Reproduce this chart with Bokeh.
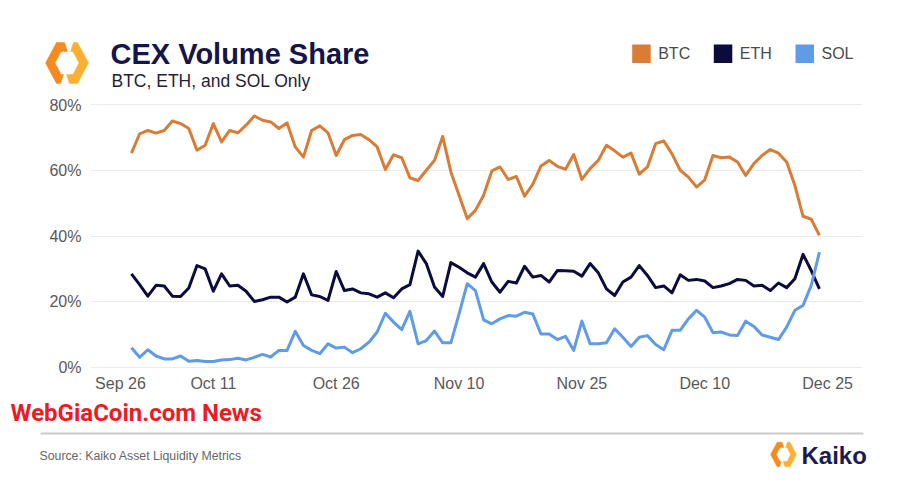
import pandas as pd
from bokeh.plotting import figure
from bokeh.layouts import column
from bokeh.models import Range1d, FixedTicker
from bokeh.core.properties import value
from bokeh.embed import file_html
from bokeh.resources import INLINE

# ---------------- data ----------------
AXIS_ORIGIN = "2024-09-26"
START_DATE = "2024-10-01"
END_DATE = "2024-12-24"

btc = [65.2, 71.1, 72.1, 71.3, 72.1, 75.0, 74.2, 72.7, 66.1, 67.6,
       74.2, 68.6, 72.1, 71.4, 73.7, 76.5, 75.2, 74.7, 72.7, 74.4,
       67.1, 64.0, 72.1, 73.5, 71.4, 64.5, 69.3, 70.6, 70.9, 69.3,
       67.1, 60.2, 64.7, 63.8, 57.7, 56.9, 60.0, 63.0, 70.3, 59.5,
       52.4, 45.3, 47.8, 52.4, 59.8, 61.0, 57.2, 58.1, 52.1, 55.7,
       61.3, 63.0, 61.2, 60.3, 64.8, 57.2, 60.5, 63.0, 67.6, 65.9,
       64.0, 65.2, 58.8, 61.0, 68.1, 68.9, 65.0, 60.0, 57.9, 54.9,
       57.1, 64.5, 63.8, 64.0, 62.5, 58.4, 62.0, 64.5, 66.3, 65.2,
       62.5, 55.4, 46.0, 45.1, 40.2]

eth = [28.5, 25.2, 21.7, 25.0, 24.8, 21.7, 21.6, 24.2, 31.0, 30.0,
       23.2, 28.5, 24.8, 25.0, 23.2, 20.1, 20.6, 21.4, 21.4, 19.9,
       21.4, 28.5, 22.1, 21.6, 20.4, 29.2, 23.4, 23.9, 22.7, 22.4,
       21.4, 22.7, 21.2, 23.9, 25.2, 35.4, 31.6, 24.5, 21.6, 31.9,
       30.5, 28.8, 27.5, 31.6, 26.0, 22.9, 26.2, 25.7, 30.8, 27.5,
       28.0, 26.0, 29.5, 29.4, 29.3, 27.8, 31.6, 28.8, 23.9, 21.9,
       26.0, 27.5, 31.0, 28.0, 24.3, 24.8, 22.7, 28.2, 26.5, 26.8,
       26.3, 24.3, 24.8, 25.5, 26.8, 26.5, 24.8, 25.0, 23.4, 25.7,
       24.3, 27.0, 34.4, 29.5, 23.9]

sol = [6.0, 3.1, 5.4, 3.5, 2.6, 2.6, 3.5, 1.9, 2.1, 1.8,
       1.8, 2.3, 2.4, 2.8, 2.3, 3.1, 4.0, 3.2, 5.2, 5.2,
       11.0, 6.7, 5.2, 4.2, 7.2, 5.9, 6.2, 4.5, 5.7, 7.7,
       10.8, 16.5, 13.8, 11.5, 17.1, 7.2, 8.2, 11.1, 7.5, 7.5,
       16.3, 25.5, 23.4, 14.5, 13.3, 14.8, 15.8, 15.6, 16.8, 16.3,
       10.2, 10.2, 8.5, 9.5, 5.2, 14.1, 7.2, 7.2, 7.5, 11.8,
       9.2, 6.4, 9.2, 9.7, 7.0, 5.4, 11.3, 11.3, 14.8, 17.4,
       15.3, 10.6, 10.8, 9.9, 9.7, 14.1, 12.5, 9.9, 9.2, 8.5,
       12.3, 17.4, 18.9, 25.0, 35.1]

series_names = ["BTC", "ETH", "SOL"]
series_colors = ["#d87c36", "#0b0b3e", "#5f9be6"]

tick_dates = ["2024-09-26", "2024-10-11", "2024-10-26", "2024-11-10",
              "2024-11-25", "2024-12-10", "2024-12-25"]
tick_labels = ["Sep 26", "Oct 11", "Oct 26", "Nov 10", "Nov 25", "Dec 10", "Dec 25"]
y_ticks = [0, 20, 40, 60, 80]
y_tick_labels = ["0%", "20%", "40%", "60%", "80%"]

TITLE = "CEX Volume Share"
SUBTITLE = "BTC, ETH, and SOL Only"
SOURCE = "Source: Kaiko Asset Liquidity Metrics"
WATERMARK = "WebGiaCoin.com News"
BRAND = "Kaiko"

FONT = "Liberation Sans"

# ---------------- derived x positions (days since axis origin) ----------------
origin = pd.Timestamp(AXIS_ORIGIN)
dates = pd.date_range(START_DATE, END_DATE, freq="D")
xs = [(d - origin).days for d in dates]
tick_pos = [float((pd.Timestamp(t) - origin).days) for t in tick_dates]
tick_pos[0] = tick_pos[0] + 3.66  # first label nudged inside, as in the source chart

W = 900
HEAD_H, MAIN_H, FOOT_H = 96, 304, 91


def blank(height, y_top):
    f = figure(width=W, height=height, output_backend="svg", toolbar_location=None,
               x_range=Range1d(0, W), y_range=Range1d(y_top + height, y_top),
               min_border=0, frame_align=False)
    f.axis.visible = False
    f.grid.visible = False
    f.outline_line_color = None
    f.background_fill_color = "white"
    f.border_fill_color = "white"
    return f


def add_logo(fig, cx, cy, s):
    left = [(-2.5, -20.5), (-10.5, -20.5), (-21.5, 0), (-10.5, 20.5), (-6.5, 20.5),
            (-3.5, 11.5), (-6, 11.5), (-12, 0), (-6, -11.5), (0.5, -11.5)]
    right = [(-x, -y) for x, y in left]
    for poly, c in ((left, "#f58a1f"), (right, "#fbb034")):
        fig.patch([cx + s * x for x, y in poly], [cy + s * y for x, y in poly],
                  fill_color=c, line_color=c, line_width=0.5)


def add_text(fig, x, y, text, size, color, bold=False, font=FONT):
    fig.text(x=[x], y=[y], text=[text], text_font=value(font), text_font_size=size,
             text_font_style="bold" if bold else "normal", text_color=color,
             text_baseline="middle", text_align="left")


# ---------------- header ----------------
h = blank(HEAD_H, 0)
add_logo(h, 66.5, 62.5, 1.0)
add_text(h, 110, 53.5, TITLE, "29px", "#15154a", bold=True)
add_text(h, 111, 80.5, SUBTITLE, "17.5px", "#1f1f33")
leg_x = [631.7, 713.3, 795.0]
for lx, name, col in zip(leg_x, series_names, series_colors):
    h.quad(left=[lx], right=[lx + 18.5], top=[44], bottom=[62.5], fill_color=col, line_color=None)
    add_text(h, lx + 26, 53, name, "16px", "#4a4a4a")

# ---------------- main chart ----------------
p = figure(width=W, height=MAIN_H, output_backend="svg", toolbar_location=None,
           x_range=Range1d(0, 94.26), y_range=Range1d(-0.913, 81.22),
           min_border_left=90, min_border_right=38, min_border_top=4,
           min_border_bottom=30, frame_align=False)
p.outline_line_color = None
p.background_fill_color = "white"
p.border_fill_color = "white"
p.xgrid.visible = False
p.ygrid.grid_line_color = "#ebebeb"
p.ygrid.grid_line_width = 1

p.xaxis.ticker = FixedTicker(ticks=tick_pos)
p.xaxis.major_label_overrides = {t: l for t, l in zip(tick_pos, tick_labels)}
p.yaxis.ticker = FixedTicker(ticks=y_ticks)
p.yaxis.major_label_overrides = {t: l for t, l in zip(y_ticks, y_tick_labels)}
for ax in (p.xaxis, p.yaxis):
    ax.axis_line_color = None
    ax.major_tick_line_color = None
    ax.minor_tick_line_color = None
    ax.major_tick_out = 0
    ax.major_tick_in = 0
    ax.minor_tick_out = 0
    ax.minor_tick_in = 0
    ax.major_label_text_font = FONT
    ax.major_label_text_font_size = "16px"
    ax.major_label_text_color = "#595959"
p.xaxis.major_label_standoff = 4
p.yaxis.major_label_standoff = 9

for vals, col in zip([btc, eth, sol], series_colors):
    p.line(xs, vals, line_width=3, line_color=col, line_join="round")

# ---------------- footer ----------------
f = blank(FOOT_H, HEAD_H + MAIN_H)
add_text(f, 10, 412.5, WATERMARK, "24px", "#ec1c24", bold=True, font="Roboto")
f.quad(left=[40], right=[863], top=[432], bottom=[434], fill_color="#cbcbcb", line_color=None)
add_text(f, 39, 455, SOURCE, "12.3px", "#666666")
add_logo(f, 783, 454, 0.6)
add_text(f, 801, 454.5, BRAND, "24px", "#1b1b4f", bold=True)

layout = column(h, p, f, spacing=0)
open("out.html", "w").write(file_html(layout, INLINE))
